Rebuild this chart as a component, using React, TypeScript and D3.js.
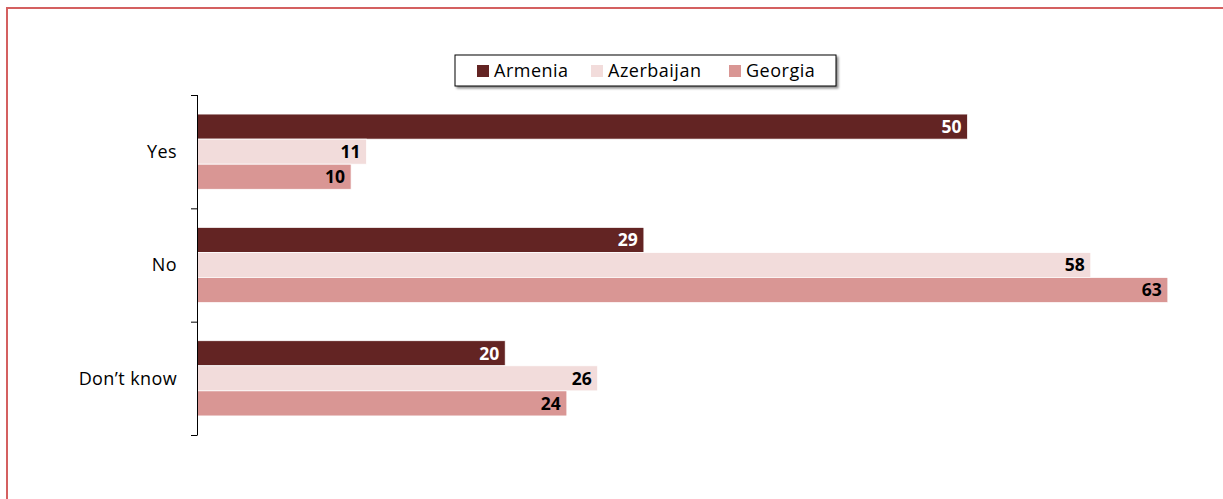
import React from "react";
import * as d3 from "d3";

const categories = ["Yes", "No", "Don\u2019t know"];
const seriesNames = ["Armenia", "Azerbaijan", "Georgia"];
const armenia = [50, 29, 20];
const azerbaijan = [11, 58, 26];
const georgia = [10, 63, 24];
const colors = ["#632423", "#F2DCDB", "#D99694"];
const labelColors = ["#ffffff", "#000000", "#000000"];

const FONT = "'Open Sans', Lato, sans-serif";

export default function App() {
  const W = 1223, H = 499;
  const series = [armenia, azerbaijan, georgia];
  const x = d3.scaleLinear().domain([0, 63]).range([197, 197 + 63 * 15.41]);
  const y = d3.scaleBand().domain(categories).range([95, 435]).paddingInner(0).paddingOuter(0);
  const inner = d3.scaleBand().domain(seriesNames).range([0, y.bandwidth()]).paddingInner(0).paddingOuter(0.76);
  const tickYs = [95, ...categories.map((c) => (y(c) as number) + y.bandwidth())];

  const legendItems = [
    { name: "Armenia", sx: 477, tx: 494 },
    { name: "Azerbaijan", sx: 591, tx: 608 },
    { name: "Georgia", sx: 729, tx: 746 },
  ];

  return (
    <svg width={W} height={H} style={{ position: "absolute", left: 0, top: 0 }}>
      <rect x={0} y={0} width={W} height={H} fill="#fff" />
      <defs>
        <filter id="sh" x="-5%" y="-20%" width="110%" height="150%">
          <feDropShadow dx="2" dy="2" stdDeviation="1.2" floodColor="#000" floodOpacity="0.45" />
        </filter>
      </defs>
      <path d={`M7,${H + 5} L7,8 L${W + 5},8`} fill="none" stroke="#d46060" strokeWidth={2} />

      {/* bars */}
      {categories.map((c, ci) =>
        series.map((s, si) => {
          const by = (y(c) as number) + (inner(seriesNames[si]) as number);
          const bh = inner.bandwidth();
          const xe = x(s[ci]);
          return (
            <g key={`${ci}-${si}`}>
              <rect x={x(0)} y={by} width={xe - x(0)} height={bh} fill={colors[si]} stroke="#fff" strokeWidth={0.75} />
              <text
                x={xe - 6}
                y={by + bh / 2}
                dy="0.36em"
                textAnchor="end"
                fontFamily={FONT}
                fontWeight="bold"
                fontSize={17.5}
                fill={labelColors[si]}
              >
                {s[ci]}
              </text>
            </g>
          );
        })
      )}

      {/* axis */}
      <line x1={197.5} x2={197.5} y1={95} y2={435} stroke="#000" strokeWidth={1} />
      {tickYs.map((t, i) => (
        <line key={i} x1={191} x2={197.5} y1={t + 0.5} y2={t + 0.5} stroke="#000" strokeWidth={1} />
      ))}
      {categories.map((c) => (
        <text
          key={c}
          x={177}
          y={(y(c) as number) + y.bandwidth() / 2}
          dy="0.35em"
          textAnchor="end"
          fontFamily={FONT}
          fontWeight={500}
          fontSize={18}
          letterSpacing={0.4}
          fill="#000"
        >
          {c}
        </text>
      ))}

      {/* legend */}
      <rect x={455} y={55} width={381} height={31} fill="#fff" stroke="#000" strokeWidth={1} filter="url(#sh)" />
      {legendItems.map((it, i) => (
        <g key={it.name}>
          <rect x={it.sx} y={65} width={12} height={12} fill={colors[i]} />
          <text x={it.tx} y={71} dy="0.36em" fontFamily={FONT} fontWeight={500} fontSize={18} letterSpacing={0.5} fill="#000">
            {it.name}
          </text>
        </g>
      ))}
    </svg>
  );
}
